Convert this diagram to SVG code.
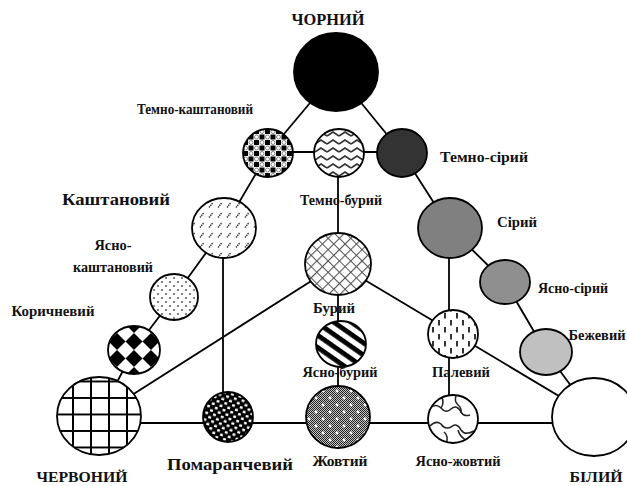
<svg xmlns="http://www.w3.org/2000/svg" width="627" height="486" viewBox="0 0 627 486">
<defs>
<style>
.n{stroke:#000;stroke-width:1.8}
#connectors line{stroke:#000;stroke-width:1.8}
text{font-family:"Liberation Serif","Times New Roman",serif;font-weight:bold;font-size:14px;fill:#111;text-anchor:middle}
.big{font-size:16px}
</style>
<pattern id="p-tk" width="11" height="11" patternUnits="userSpaceOnUse" x="243" y="129">
<rect width="11" height="11" fill="#fff"/>
<rect x="0" y="0" width="5" height="5" fill="#000"/>
<rect x="5.5" y="5.5" width="5" height="5" fill="#000"/>
<circle cx="8" cy="2.5" r="2" fill="none" stroke="#777" stroke-width="0.9"/>
<circle cx="2.5" cy="8" r="2" fill="none" stroke="#777" stroke-width="0.9"/>
</pattern>
<pattern id="p-tb" width="12" height="8" patternUnits="userSpaceOnUse" x="315" y="130">
<rect width="12" height="8" fill="#fff"/>
<path d="M0,6 L6,2 L12,6" fill="none" stroke="#333" stroke-width="1.6"/>
</pattern>
<pattern id="p-kasht" width="9" height="10" patternUnits="userSpaceOnUse">
<rect width="9" height="10" fill="#fff"/>
<line x1="2" y1="7.5" x2="6" y2="2.5" stroke="#333" stroke-width="1.4" stroke-dasharray="1.4,0.7"/>
</pattern>
<pattern id="p-yak" width="8" height="8" patternUnits="userSpaceOnUse">
<rect width="8" height="8" fill="#fff"/>
<circle cx="2" cy="2" r="1.1" fill="#666"/>
<circle cx="6" cy="6" r="1.1" fill="#666"/>
</pattern>
<pattern id="p-kor" width="24" height="24" patternUnits="userSpaceOnUse" patternTransform="translate(134,333) rotate(45)">
<rect width="24" height="24" fill="#fff"/>
<rect x="0" y="0" width="12" height="12" fill="#000"/>
<rect x="12" y="12" width="12" height="12" fill="#000"/>
</pattern>
<pattern id="p-cherv" width="18" height="16.5" patternUnits="userSpaceOnUse" x="72" y="397">
<rect width="18" height="16.5" fill="#fff"/>
<path d="M1,0V16.5M0,1H18" stroke="#000" stroke-width="2"/>
</pattern>
<pattern id="p-pom" width="8" height="7" patternUnits="userSpaceOnUse" patternTransform="rotate(15)">
<rect width="8" height="7" fill="#000"/>
<rect x="1" y="1" width="3" height="2.6" rx="0.8" fill="#fff"/>
<rect x="5" y="4.5" width="3" height="2.6" rx="0.8" fill="#fff"/>
</pattern>
<pattern id="p-zh" width="2" height="2" patternUnits="userSpaceOnUse">
<rect width="2" height="2" fill="#c4c4c4"/>
<rect width="1" height="1" fill="#222"/>
<rect x="1" y="1" width="1" height="1" fill="#222"/>
</pattern>
<pattern id="p-zhs" width="14" height="14" patternUnits="userSpaceOnUse" x="306" y="388">
<circle cx="3" cy="3" r="1.4" fill="#fff"/>
<circle cx="10" cy="10" r="1.4" fill="#fff"/>
</pattern>
<pattern id="p-bury" width="8" height="8" patternUnits="userSpaceOnUse" patternTransform="rotate(45)">
<rect width="8" height="8" fill="#fff"/>
<path d="M0,0.5H8M0.5,0V8" stroke="#555" stroke-width="1.2"/>
</pattern>
<pattern id="p-yab" width="10" height="10" patternUnits="userSpaceOnUse" patternTransform="rotate(35)">
<rect width="10" height="10" fill="#fff"/>
<rect width="10" height="4.8" fill="#000"/>
</pattern>
<pattern id="p-pal" width="12" height="14" patternUnits="userSpaceOnUse" x="430" y="312">
<rect width="12" height="14" fill="#fff"/>
<line x1="3" y1="1" x2="3" y2="6.5" stroke="#000" stroke-width="1.6"/>
<line x1="9" y1="8" x2="9" y2="13.5" stroke="#000" stroke-width="1.6"/>
</pattern>
<clipPath id="clip-yazh"><ellipse cx="453" cy="419" rx="25" ry="24"/></clipPath>
</defs>

<g id="connectors">
<line x1="336" y1="72" x2="268" y2="153"/>
<line x1="336" y1="72" x2="402" y2="153"/>
<line x1="268" y1="152" x2="402" y2="152"/>
<line x1="338" y1="153" x2="338" y2="264"/>
<line x1="268" y1="153" x2="224" y2="228"/>
<line x1="224" y1="228" x2="174" y2="297"/>
<line x1="174" y1="297" x2="134" y2="350"/>
<line x1="134" y1="350" x2="99" y2="416"/>
<line x1="402" y1="153" x2="450" y2="228"/>
<line x1="450" y1="228" x2="505" y2="282"/>
<line x1="505" y1="282" x2="546" y2="352"/>
<line x1="546" y1="352" x2="594" y2="417"/>
<line x1="223" y1="228" x2="223" y2="417"/>
<line x1="449" y1="228" x2="449" y2="419"/>
<line x1="338" y1="264" x2="99" y2="416"/>
<line x1="338" y1="264" x2="594" y2="417"/>
<line x1="338" y1="264" x2="338" y2="417"/>
<line x1="99" y1="423" x2="594" y2="423"/>
</g>

<g id="chorny"><ellipse class="n" cx="336" cy="72" rx="42" ry="39" fill="#000"/><text class="big" x="328" y="25" textLength="73" lengthAdjust="spacingAndGlyphs">ЧОРНИЙ</text></g>
<g id="temno-kashtanovy"><ellipse class="n" cx="268" cy="153" rx="25" ry="24" fill="url(#p-tk)"/><text x="195" y="114" textLength="116" lengthAdjust="spacingAndGlyphs">Темно-каштановий</text></g>
<g id="temno-bury"><ellipse class="n" cx="339" cy="153" rx="25" ry="24" fill="url(#p-tb)"/><text x="341" y="205" textLength="82" lengthAdjust="spacingAndGlyphs">Темно-бурий</text></g>
<g id="temno-siry"><ellipse class="n" cx="402" cy="153" rx="25" ry="24" fill="#333"/><text x="484" y="162" textLength="88" lengthAdjust="spacingAndGlyphs">Темно-сірий</text></g>
<g id="kashtanovy"><ellipse class="n" cx="224" cy="228" rx="32" ry="30" fill="url(#p-kasht)"/><text x="116" y="205" style="font-size:17px" textLength="108" lengthAdjust="spacingAndGlyphs">Каштановий</text></g>
<g id="yasno-kashtanovy"><ellipse class="n" cx="174" cy="297" rx="24" ry="23" fill="url(#p-yak)"/><text x="113" y="250" textLength="37" lengthAdjust="spacingAndGlyphs">Ясно-</text><text x="113" y="272" textLength="80" lengthAdjust="spacingAndGlyphs">каштановий</text></g>
<g id="korychnevy"><ellipse class="n" cx="134" cy="350" rx="26" ry="24" fill="url(#p-kor)"/><text x="53" y="316" textLength="83" lengthAdjust="spacingAndGlyphs">Коричневий</text></g>
<g id="chervony"><ellipse class="n" cx="99" cy="416" rx="42" ry="39" fill="url(#p-cherv)"/><text x="82" y="482" style="font-size:15px" textLength="91" lengthAdjust="spacingAndGlyphs">ЧЕРВОНИЙ</text></g>
<g id="pomaranchevy"><ellipse class="n" cx="228" cy="417" rx="25" ry="25" fill="url(#p-pom)"/><text class="big" x="230" y="470" textLength="126" lengthAdjust="spacingAndGlyphs">Помаранчевий</text></g>
<g id="zhovty"><ellipse cx="338" cy="417" rx="32" ry="31" fill="url(#p-zh)"/><ellipse class="n" cx="338" cy="417" rx="32" ry="31" fill="url(#p-zhs)"/><text style="font-size:15px" x="340" y="466" textLength="55" lengthAdjust="spacingAndGlyphs">Жовтий</text></g>
<g id="yasno-zhovty"><ellipse cx="453" cy="419" rx="25" ry="24" fill="#fff"/>
<g clip-path="url(#clip-yazh)" fill="none" stroke="#222" stroke-width="1.5">
<path d="M430,408 q6,-5 11,0 q5,6 10,1 q6,-5 10,3 q3,5 9,3"/>
<path d="M441,396 q4,6 0,12"/>
<path d="M456,396 q-2,5 2,9 q4,3 3,8"/>
<path d="M430,426 q6,-6 11,-2 q4,6 10,3 q6,-5 10,3 q4,6 13,1"/>
<path d="M444,432 q5,4 2,13"/>
<path d="M458,430 q2,7 8,10"/>
</g>
<ellipse class="n" cx="453" cy="419" rx="25" ry="24" fill="none"/><text style="font-size:15px" x="458" y="466" textLength="85" lengthAdjust="spacingAndGlyphs">Ясно-жовтий</text></g>
<g id="bily"><ellipse class="n" cx="594" cy="417" rx="42" ry="39" fill="#fff"/><text style="font-size:15px" x="596" y="482" textLength="53" lengthAdjust="spacingAndGlyphs">БІЛИЙ</text></g>
<g id="bury"><ellipse class="n" cx="338" cy="264" rx="33" ry="31" fill="url(#p-bury)"/><text x="334" y="313" textLength="42" lengthAdjust="spacingAndGlyphs">Бурий</text></g>
<g id="yasno-bury"><ellipse class="n" cx="341" cy="344" rx="25" ry="23" fill="url(#p-yab)"/><text x="340" y="377" textLength="75" lengthAdjust="spacingAndGlyphs">Ясно-бурий</text></g>
<g id="palevy"><ellipse class="n" cx="453" cy="334" rx="25" ry="24" fill="url(#p-pal)"/><text x="461" y="377" textLength="58" lengthAdjust="spacingAndGlyphs">Палевий</text></g>
<g id="siry"><ellipse class="n" cx="450" cy="228" rx="32" ry="30" fill="#808080"/><text x="517" y="227" textLength="40" lengthAdjust="spacingAndGlyphs">Сірий</text></g>
<g id="yasno-siry"><ellipse class="n" cx="505" cy="282" rx="25" ry="22" fill="#8f8f8f"/><text x="573" y="293" textLength="70" lengthAdjust="spacingAndGlyphs">Ясно-сірий</text></g>
<g id="bezhevy"><ellipse class="n" cx="546" cy="352" rx="26" ry="23" fill="#c0c0c0"/><text x="597" y="340" textLength="57" lengthAdjust="spacingAndGlyphs">Бежевий</text></g>
</svg>
